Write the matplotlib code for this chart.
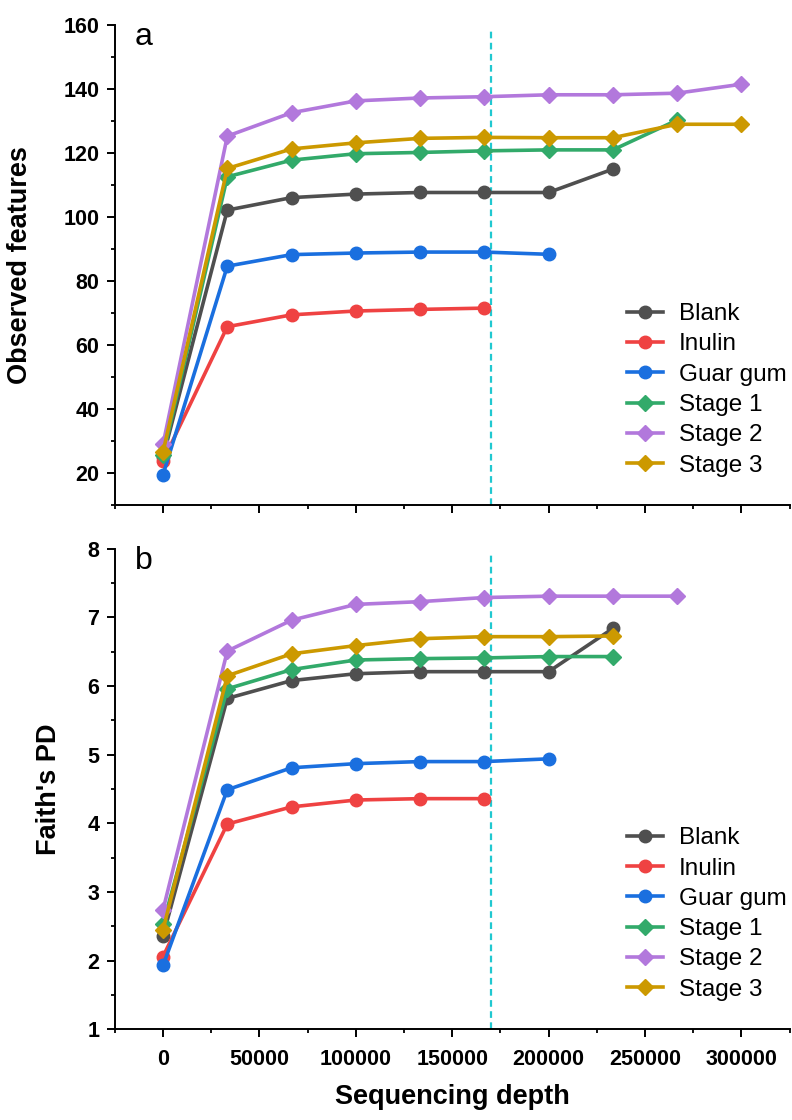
import matplotlib
matplotlib.use("Agg")
import matplotlib.pyplot as plt
from matplotlib.ticker import MultipleLocator

plt.rcParams['font.family'] = ['Liberation Sans', 'DejaVu Sans']

depth = [0, 33333, 66667, 100000, 133333, 166667, 200000, 233333, 266667, 300000]
names = ["Blank", "Inulin", "Guar gum", "Stage 1", "Stage 2", "Stage 3"]
colors = ["#4f4f4f", "#ef4242", "#1a6fdf", "#32aa6a", "#b278dc", "#cc9900"]
markers = ["o", "o", "o", "D", "D", "D"]

# Observed features
obs_blank = [25.0, 102.1, 106.0, 107.1, 107.6, 107.6, 107.6, 114.9]
obs_inulin = [23.8, 65.7, 69.4, 70.6, 71.1, 71.5]
obs_guar = [19.5, 84.6, 88.2, 88.7, 89.0, 89.0, 88.3]
obs_stage1 = [25.5, 112.5, 117.7, 119.7, 120.1, 120.6, 120.9, 120.9, 130.2]
obs_stage2 = [29.0, 125.2, 132.5, 136.2, 137.1, 137.5, 138.1, 138.1, 138.6, 141.4]
obs_stage3 = [26.6, 115.1, 121.2, 123.1, 124.5, 124.8, 124.7, 124.7, 128.9, 128.9]

# Faith's PD
pd_blank = [2.36, 5.82, 6.08, 6.18, 6.21, 6.21, 6.21, 6.84]
pd_inulin = [2.06, 3.99, 4.24, 4.34, 4.36, 4.36]
pd_guar = [1.93, 4.49, 4.81, 4.87, 4.90, 4.90, 4.94]
pd_stage1 = [2.53, 5.96, 6.24, 6.38, 6.40, 6.41, 6.43, 6.43]
pd_stage2 = [2.74, 6.51, 6.96, 7.19, 7.23, 7.29, 7.31, 7.31, 7.31]
pd_stage3 = [2.45, 6.15, 6.47, 6.59, 6.69, 6.72, 6.72, 6.73]

cutoff = 170000

fig = plt.figure(figsize=(7.92, 11.2), dpi=100)
ax1 = fig.add_axes([0.145, 0.549, 0.852, 0.429])
ax2 = fig.add_axes([0.145, 0.081, 0.852, 0.429])

def draw(ax, series, ylabel, ylim, ymajor, yminor, letter, show_xlabels, label_x):
    for s, name, c, m in zip(series, names, colors, markers):
        ax.plot(depth[:len(s)], s, color=c, marker=m, lw=2.6,
                markersize=9 if m == "o" else 8.5, label=name, clip_on=False, zorder=3)
    ax.axvline(cutoff, ymin=0, ymax=0.99, color="#20c8d0", lw=1.6, ls=(0, (3, 2)), zorder=2)
    ax.set_xlim(-25000, 325000)
    ax.set_ylim(*ylim)
    ax.xaxis.set_major_locator(MultipleLocator(50000))
    ax.xaxis.set_minor_locator(MultipleLocator(25000))
    ax.yaxis.set_major_locator(MultipleLocator(ymajor))
    ax.yaxis.set_minor_locator(MultipleLocator(yminor))
    for sp in ["top", "right"]:
        ax.spines[sp].set_visible(False)
    for sp in ["left", "bottom"]:
        ax.spines[sp].set_linewidth(1.4)
    ax.tick_params(which="major", direction="out", length=6, width=1.4, labelsize=15.5)
    ax.tick_params(which="minor", direction="out", length=3, width=1.3)
    ax.tick_params(axis="y", which="major", pad=5)
    ax.tick_params(axis="x", which="major", pad=8)
    for lbl in ax.get_yticklabels() + ax.get_xticklabels():
        lbl.set_fontweight("bold")
    if not show_xlabels:
        ax.tick_params(axis="x", labelbottom=False)
    ax.set_ylabel(ylabel, fontsize=19.5, fontweight="bold")
    ax.yaxis.set_label_coords(label_x, 0.5)
    ax.text(0.03, 1.005, letter, transform=ax.transAxes, fontsize=23, va="top", ha="left")
    ax.legend(loc="lower right", bbox_to_anchor=(1.021, 0.024), frameon=False, fontsize=17.5,
              handlelength=1.5, labelspacing=0.34, handletextpad=0.65, borderpad=0.2)

draw(ax1, [obs_blank, obs_inulin, obs_guar, obs_stage1, obs_stage2, obs_stage3],
     "Observed features", (10, 160), 20, 10, "a", False, -0.121)
draw(ax2, [pd_blank, pd_inulin, pd_guar, pd_stage1, pd_stage2, pd_stage3],
     "Faith's PD", (1, 8), 1, 0.5, "b", True, -0.079)
ax2.set_xlabel("Sequencing depth", fontsize=19.5, fontweight="bold")
ax2.xaxis.set_label_coords(0.5, -0.113)

fig.savefig("out.png", dpi=100)
